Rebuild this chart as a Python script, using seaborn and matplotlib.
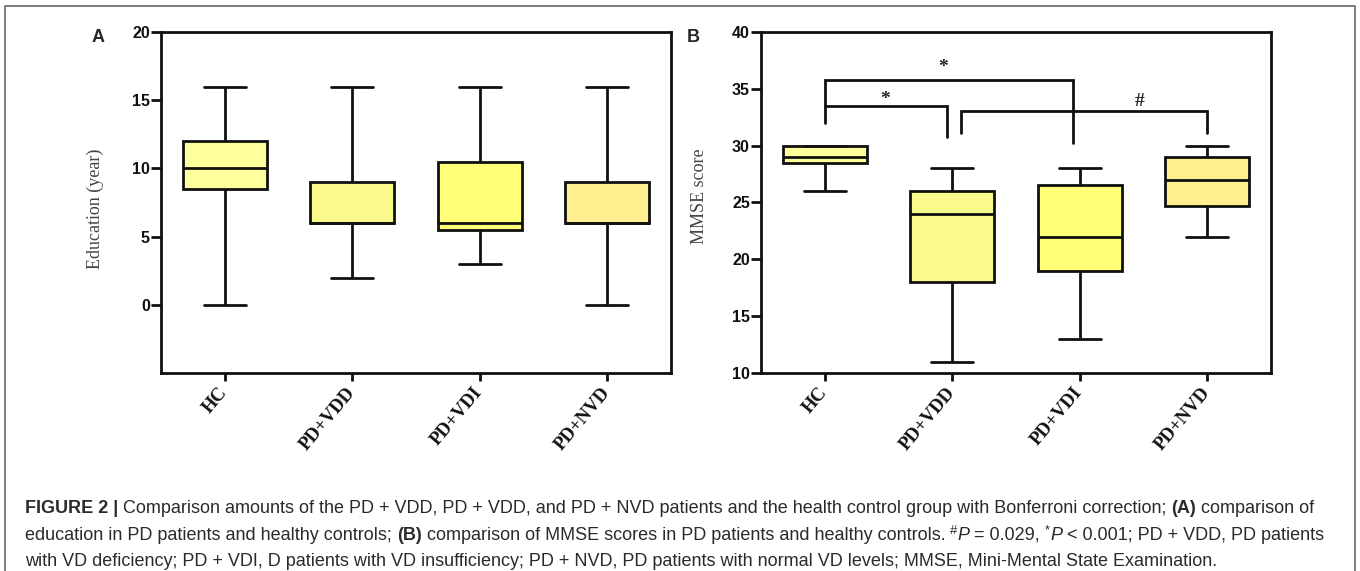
import numpy as np
import pandas as pd
import seaborn as sns
import matplotlib
matplotlib.use("Agg")
import matplotlib.pyplot as plt
from matplotlib.lines import Line2D

# ---------------- data (five-number summaries) ----------------
groups = ["HC", "PD+VDD", "PD+VDI", "PD+NVD"]
box_colors = ["#FFFF9C", "#F9F98C", "#FFFF78", "#FFEF8F"]

# Panel A: Education (year)  -> [min, Q1, median, Q3, max]
edu_min = [0, 2, 3, 0]
edu_q1 = [8.5, 6, 5.5, 6]
edu_med = [10, 6, 6, 6]
edu_q3 = [12, 9, 10.5, 9]
edu_max = [16, 16, 16, 16]

# Panel B: MMSE score
mmse_min = [26, 11, 13, 22]
mmse_q1 = [28.5, 18, 19, 24.7]
mmse_med = [29, 24, 22, 27]
mmse_q3 = [30, 26, 26.5, 29]
mmse_max = [30, 28, 28, 30]

edu_ticks = [0, 5, 10, 15, 20]
mmse_ticks = [10, 15, 20, 25, 30, 35, 40]

# significance brackets in panel B
br_x_left = [0, 0, 1.07]
br_x_right = [0.96, 1.95, 3.0]
br_y_top = [33.5, 35.8, 33.05]
br_y_left_end = [32.0, 33.5, 31.1]
br_y_right_end = [30.8, 30.2, 31.1]
br_labels = ["*", "*", "#"]
br_label_x = [0.47, 0.93, 2.47]
br_label_y = [34.1, 36.9, 33.9]


def five_num_frame(mins, q1s, meds, q3s, maxs):
    rows = []
    for g, a, b, c, d, e in zip(groups, mins, q1s, meds, q3s, maxs):
        for v in (a, b, c, d, e):
            rows.append({"group": g, "value": v})
    return pd.DataFrame(rows)


df_edu = five_num_frame(edu_min, edu_q1, edu_med, edu_q3, edu_max)
df_mmse = five_num_frame(mmse_min, mmse_q1, mmse_med, mmse_q3, mmse_max)

sns.set_style("white")
plt.rcParams["font.family"] = ["Liberation Sans", "DejaVu Sans"]

W, H = 1360, 571
fig = plt.figure(figsize=(W / 100, H / 100), dpi=100)

def px_axes(left, top, right, bottom):
    return fig.add_axes([left / W, 1 - bottom / H, (right - left) / W, (bottom - top) / H])

axA = px_axes(161, 32, 671, 373)
axB = px_axes(761, 32, 1271, 373)

LW = 2.0
pal = dict(zip(groups, box_colors))

for ax, df, ylim, ticks in [
    (axA, df_edu, (-5, 20), edu_ticks),
    (axB, df_mmse, (10, 40), mmse_ticks),
]:
    sns.boxplot(data=df, x="group", y="value", hue="group", palette=pal,
                order=groups, hue_order=groups, whis=(0, 100), width=0.66,
                linewidth=LW, linecolor="#111111", saturation=1, legend=False,
                dodge=False, ax=ax)
    ax.set_xlim(-0.5, 3.5)
    ax.set_ylim(*ylim)
    ax.set_yticks(ticks)
    ax.set_yticklabels([str(t) for t in ticks], fontsize=11.5, fontweight="bold",
                       family=["Liberation Sans Narrow", "Liberation Sans"])
    ax.set_xticks(range(len(groups)))
    ax.set_xticklabels(groups, rotation=50, ha="right", va="center",
                       rotation_mode="anchor", fontsize=13.5, fontweight="bold",
                       family="Liberation Serif")
    ax.tick_params(axis="y", direction="out", length=7, width=2, pad=1,
                   left=True, colors="#111111")
    ax.tick_params(axis="x", direction="out", length=6, width=2, pad=6,
                   bottom=True, colors="#111111")
    for s in ax.spines.values():
        s.set_visible(True)
        s.set_linewidth(2)
        s.set_color("#111111")
    ax.set_xlabel("")
    ax.set_ylabel("")
    ax.set_facecolor("white")

fig.text(95 / W, 1 - 209 / H, "Education (year)", rotation=90, ha="center",
         va="center", fontsize=13, family="Liberation Serif", color="#444444")
fig.text(700 / W, 1 - 196 / H, "MMSE score", rotation=90, ha="center",
         va="center", fontsize=13, family="Liberation Serif", color="#444444")

fig.text(98 / W, 1 - 37 / H, "A", ha="center", va="center", fontsize=13,
         fontweight="bold")
fig.text(693 / W, 1 - 37 / H, "B", ha="center", va="center", fontsize=13,
         fontweight="bold")

# brackets
for xl, xr, yt, yl, yr, lab, lx, ly in zip(br_x_left, br_x_right, br_y_top,
                                           br_y_left_end, br_y_right_end,
                                           br_labels, br_label_x, br_label_y):
    axB.plot([xl, xl, xr, xr], [yl, yt, yt, yr], color="#111111", lw=2,
             solid_joinstyle="miter", clip_on=False, zorder=5)
    axB.text(lx, ly, lab, ha="center", va="center", fontsize=14,
             fontweight="bold", family="Liberation Serif", color="#222222")

# outer frame (left, top, right; bottom runs past the image edge)
fx0, fx1, fy0 = 5 / W, 1355 / W, 1 - 6 / H
fig.lines.append(Line2D([fx0, fx0, fx1, fx1], [0, fy0, fy0, 0],
                        transform=fig.transFigure, color="#666666", lw=1.2))

# caption
cax = fig.add_axes([0, 0, 1, 1])
cax.axis("off")
cax.set_zorder(-1)
CFS = 13
CCOL = "#2a2a2a"

def caption_line(pieces, x, y):
    base = None
    prev = None
    for txt, kw in pieces:
        kw = dict(kw)
        style = dict(fontsize=CFS, color=CCOL, family="Liberation Sans")
        sup = kw.pop("sup", False)
        style.update(kw)
        if base is None:
            base = cax.text(x, y, txt, transform=fig.transFigure, ha="left",
                            va="baseline", **style)
            prev = base
        elif sup:
            style["fontsize"] = CFS * 0.72
            prev = cax.annotate(txt, xy=(1, 0.42), xycoords=(prev, base),
                                ha="left", va="bottom", annotation_clip=False,
                                **style)
        else:
            prev = cax.annotate(txt, xy=(1, 0), xycoords=(prev, base),
                                ha="left", va="bottom", annotation_clip=False,
                                **style)
    return prev

x0 = 25 / W
line_base = [513, 540, 566]
caption_line([
    ("FIGURE 2 | ", {"fontweight": "bold"}),
    ("Comparison amounts of the PD + VDD, PD + VDD, and PD + NVD patients and the health control group with Bonferroni correction; ", {}),
    ("(A)", {"fontweight": "bold"}),
    (" comparison of", {}),
], x0, 1 - line_base[0] / H)
caption_line([
    ("education in PD patients and healthy controls; ", {}),
    ("(B)", {"fontweight": "bold"}),
    (" comparison of MMSE scores in PD patients and healthy controls. ", {}),
    ("#", {"sup": True}),
    ("P", {"style": "italic"}),
    (" = 0.029, ", {}),
    ("*", {"sup": True}),
    ("P", {"style": "italic"}),
    (" < 0.001; PD + VDD, PD patients", {}),
], x0, 1 - line_base[1] / H)
caption_line([
    ("with VD deficiency; PD + VDI, D patients with VD insufficiency; PD + NVD, PD patients with normal VD levels; MMSE, Mini-Mental State Examination.", {}),
], x0, 1 - line_base[2] / H)

fig.savefig("out.png", dpi=100, facecolor="white")
